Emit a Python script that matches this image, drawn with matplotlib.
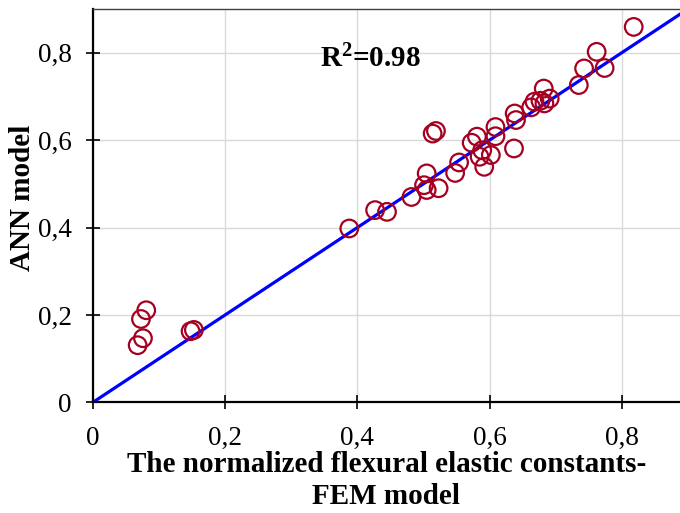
import matplotlib
matplotlib.use('Agg')
import matplotlib.pyplot as plt
from matplotlib.ticker import FuncFormatter

# FEM (x) vs ANN (y) normalized flexural elastic constants
fem = [0.081, 0.073, 0.076, 0.068, 0.148, 0.153,
       0.388, 0.427, 0.445, 0.482, 0.501, 0.505, 0.505, 0.523,
       0.514, 0.519, 0.548, 0.554, 0.573, 0.581, 0.585, 0.592,
       0.602, 0.589, 0.609, 0.609, 0.637, 0.638, 0.640, 0.663,
       0.668, 0.682, 0.683, 0.691, 0.677, 0.735, 0.743, 0.762,
       0.774, 0.818]
ann = [0.211, 0.191, 0.147, 0.131, 0.163, 0.166,
       0.398, 0.440, 0.436, 0.470, 0.497, 0.524, 0.486, 0.490,
       0.615, 0.621, 0.525, 0.549, 0.594, 0.608, 0.562, 0.539,
       0.566, 0.577, 0.630, 0.609, 0.581, 0.661, 0.646, 0.675,
       0.688, 0.718, 0.684, 0.695, 0.690, 0.726, 0.764, 0.802,
       0.765, 0.859]
ticks = [0, 0.2, 0.4, 0.6, 0.8]
r2_text = 'R$^2$=0.98'

plt.rcParams['font.family'] = ['Liberation Serif', 'DejaVu Serif']
plt.rcParams['mathtext.fontset'] = 'custom'
plt.rcParams['mathtext.rm'] = 'Liberation Serif:bold'
plt.rcParams['mathtext.it'] = 'Liberation Serif:bold'
plt.rcParams['mathtext.bf'] = 'Liberation Serif:bold'

fig = plt.figure(figsize=(6.8, 5.13), dpi=100)
ax = fig.add_axes([0.1363, 0.2154, 0.8637, 0.7671])

ax.plot([0, 0.95], [0, 0.95], color='#0000FF', lw=2.3, zorder=2)
ax.scatter(fem, ann, s=160, facecolors='none', edgecolors='#A50021',
           linewidths=1.6, zorder=3)

ax.set_xlim(0, 0.888)
ax.set_ylim(0, 0.9)
ax.set_xticks(ticks)
ax.set_yticks(ticks)
fmt = FuncFormatter(lambda v, p: '0' if v == 0 else ('%.1f' % v).replace('.', ','))
ax.xaxis.set_major_formatter(fmt)
ax.yaxis.set_major_formatter(fmt)
ax.tick_params(direction='inout', length=10, width=1.2, labelsize=19.5)
ax.tick_params(axis='x', pad=12)
ax.tick_params(axis='y', pad=10)
ax.grid(True, color='#d9d9d9', lw=1)
ax.set_axisbelow(True)

for s in ['left', 'bottom']:
    ax.spines[s].set_linewidth(1.6)
    ax.spines[s].set_color('black')
ax.spines['top'].set_linewidth(1)
ax.spines['top'].set_color('#404040')
ax.spines['right'].set_visible(False)

ax.set_xlabel('The normalized flexural elastic constants-\nFEM model',
              fontsize=21, fontweight='bold', linespacing=1.22, labelpad=0)
ax.set_ylabel('ANN model', fontsize=21, fontweight='bold')
ax.yaxis.set_label_coords(-0.097, 0.52)

ax.text(0.42, 0.785, r2_text, fontsize=21, fontweight='bold',
        ha='center', va='center')

fig.savefig('out.png', dpi=100)
